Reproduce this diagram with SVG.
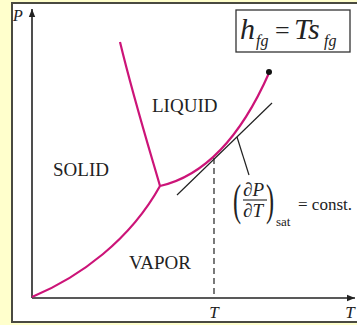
<svg xmlns="http://www.w3.org/2000/svg" width="357" height="325" viewBox="0 0 357 325">
<style>
.lbl{font-family:"Liberation Serif",serif;font-size:19px;fill:#222}
.it{font-family:"Liberation Serif",serif;font-style:italic;fill:#222}
.rm{font-family:"Liberation Serif",serif;fill:#222}
.curve{fill:none;stroke:#CC1478;stroke-width:2.2}
.thin{fill:none;stroke:#222;stroke-width:1.2}
</style>
<defs>
<marker id="ah" viewBox="0 0 10 10" refX="10" refY="5" markerWidth="8" markerHeight="8" markerUnits="userSpaceOnUse" orient="auto">
<path d="M0,1 L10,5 L0,9 Z" fill="#222"/>
</marker>
</defs>
<rect x="0" y="0" width="357" height="325" fill="#FFFFCC"/>
<rect x="12" y="3" width="350" height="319" fill="#FFFFFF" stroke="#4a4a40" stroke-width="2"/>
<g id="axes">
<line x1="32" y1="298" x2="32" y2="9" stroke="#222" stroke-width="1.6" marker-end="url(#ah)"/>
<line x1="32" y1="298" x2="355" y2="298" stroke="#222" stroke-width="1.6" marker-end="url(#ah)"/>
<text class="it" x="13" y="21" font-size="16">P</text>
<text class="it" x="214" y="318" font-size="17" text-anchor="middle">T</text>
<text class="it" x="350" y="318" font-size="17" text-anchor="middle">T</text>
</g>
<g id="connectors">
<path class="curve" d="M32,297 C80,277 130,240 160,186"/>
<path class="curve" d="M160,186 C152,158 134,100 120,42"/>
<path class="curve" d="M160,186 C195,178 235,150 269,73"/>
<circle cx="269" cy="72" r="3" fill="#111"/>
<line class="thin" x1="177" y1="195" x2="272" y2="103"/>
<line class="thin" x1="237" y1="137" x2="249" y2="175"/>
<line x1="214" y1="158" x2="214" y2="297" stroke="#222" stroke-width="1.2" stroke-dasharray="6,4"/>
</g>
<g id="solid"><text class="lbl" x="53" y="176">SOLID</text></g>
<g id="liquid"><text class="lbl" x="152" y="112">LIQUID</text></g>
<g id="vapor"><text class="lbl" x="129" y="269">VAPOR</text></g>
<g id="slope">
<text class="rm" x="233" y="215" font-size="44" transform="translate(233,215) scale(0.55,1) translate(-233,-215)">(</text>
<text class="rm" x="266" y="215" font-size="44" transform="translate(266,215) scale(0.55,1) translate(-266,-215)">)</text>
<text class="it" x="243" y="196" font-size="19">∂P</text>
<line x1="243" y1="200" x2="267" y2="200" stroke="#222" stroke-width="1.1"/>
<text class="it" x="243" y="217" font-size="19">∂T</text>
<text class="rm" x="276" y="226" font-size="13">sat</text>
<text class="rm" x="298" y="210" font-size="17">= const.</text>
</g>
<g id="equation">
<rect x="236" y="10" width="114" height="42" fill="#FFFFFF" stroke="#333" stroke-width="1.3"/>
<text class="it" x="240" y="39" font-size="30">h</text>
<text class="it" x="256" y="46" font-size="16">fg</text>
<text class="rm" x="275" y="39" font-size="26">=</text>
<text class="it" x="294" y="39" font-size="30">Ts</text>
<text class="it" x="324" y="46" font-size="16">fg</text>
</g>
</svg>
